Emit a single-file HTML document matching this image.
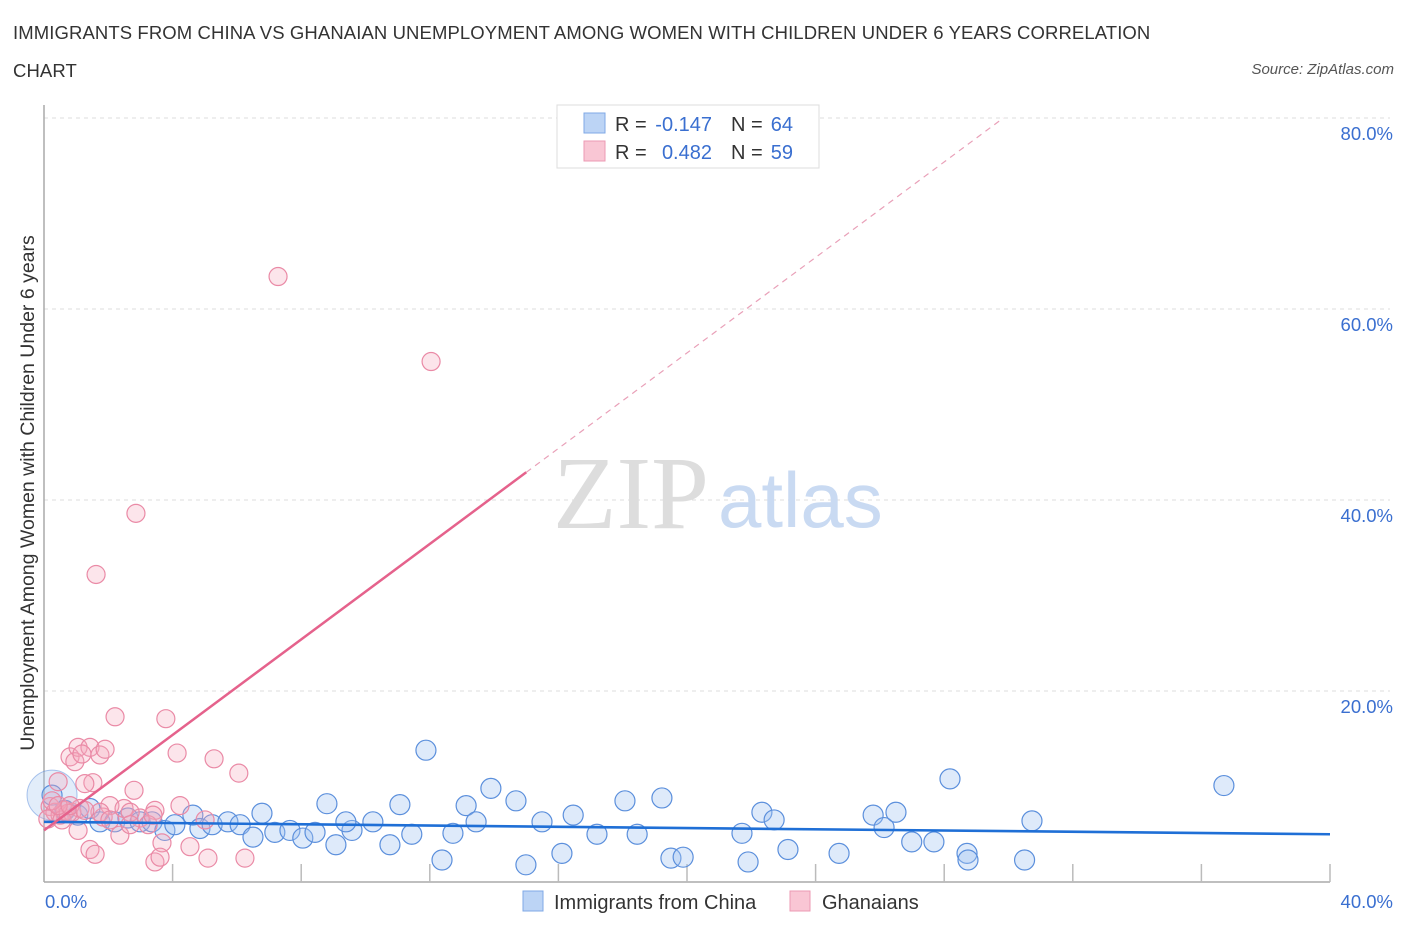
<!DOCTYPE html>
<html><head><meta charset="utf-8">
<style>
body{margin:0;background:#fff;font-family:"Liberation Sans",sans-serif;}
#wrap{position:relative;width:1406px;height:930px;overflow:hidden;}
.title{position:absolute;left:13px;top:14px;font-size:18.5px;color:#333;line-height:38px;width:1160px;letter-spacing:0.1px;}
.src{position:absolute;right:12px;top:61px;font-size:15px;color:#555;font-style:italic;}
</style></head><body>
<div id="wrap">
<div class="title">IMMIGRANTS FROM CHINA VS GHANAIAN UNEMPLOYMENT AMONG WOMEN WITH CHILDREN UNDER 6 YEARS CORRELATION CHART</div>
<div class="src">Source: ZipAtlas.com</div>
<svg id="svg" width="1406" height="930" style="position:absolute;left:0;top:0"></svg>
</div>
<script>
const blueX=[0.25,0.65,1.05,1.43,1.74,2.2,2.61,2.99,3.36,3.76,4.07,4.63,4.85,5.23,5.72,6.1,6.5,6.78,7.18,7.65,8.05,8.43,8.8,9.08,9.58,9.39,10.23,10.76,11.07,11.44,11.88,12.38,12.72,13.13,13.44,13.9,14.68,14.99,15.49,16.11,16.46,17.2,18.07,18.45,19.22,19.5,19.88,21.71,21.9,22.33,22.71,23.14,24.73,25.79,26.13,26.5,26.99,27.68,28.18,28.71,28.74,30.5,30.73,36.7];
const blueY=[9.1,7.5,7.0,7.7,6.3,6.3,6.7,6.3,6.3,5.4,6.0,7.0,5.6,6.0,6.3,6.0,4.7,7.2,5.2,5.4,4.6,5.2,8.2,3.9,5.4,6.3,6.3,3.9,8.1,5.0,13.8,2.3,5.1,8.0,6.3,9.8,8.5,1.8,6.3,3.0,7.0,5.0,8.5,5.0,8.8,2.5,2.6,5.1,2.1,7.3,6.5,3.4,3.0,7.0,5.7,7.3,4.2,4.2,10.8,3.0,2.3,2.3,6.4,10.1];
const pinkX=[7.28,12.04,2.86,1.62,2.21,3.79,4.14,5.29,6.06,0.81,1.06,1.43,1.74,1.9,0.96,1.18,0.44,1.52,2.8,4.23,1.27,2.05,2.49,3.45,2.99,1.84,1.06,2.36,3.67,4.54,5.1,6.25,3.45,3.61,1.43,1.59,0.19,0.34,0.5,0.65,0.87,1.12,0.12,0.56,0.75,1.74,2.68,3.24,5.01,0.25,0.44,0.81,1.27,2.05,2.68,3.39];
const pinkY=[63.4,54.5,38.6,32.2,17.3,17.1,13.5,12.9,11.4,13.1,14.1,14.1,13.3,13.9,12.6,13.4,10.5,10.4,9.6,8.0,10.3,8.0,7.7,7.5,6.7,6.8,5.4,4.9,4.1,3.7,2.5,2.5,2.1,2.6,3.4,2.9,7.9,7.3,7.0,7.5,7.3,7.7,6.6,6.5,7.2,7.3,7.3,6.0,6.5,8.5,8.0,8.0,7.5,6.5,6.0,7.0];
const yTicks=[20,40,60,80];
const blueFit=[6.3,5.0];
const pinkFit=[5.4,2.5];
const ns="http://www.w3.org/2000/svg";
const svg=document.getElementById('svg');
const X=v=>44+v*32.15, Y=v=>882-v*9.55;
function el(t,a,p){const e=document.createElementNS(ns,t);for(const k in a)e.setAttribute(k,a[k]);(p||svg).appendChild(e);return e;}
yTicks.forEach(t=>{
 const g=el('line',{x1:44,x2:1390,y1:Y(t),y2:Y(t),stroke:'#ddd','stroke-dasharray':'4,4'});
 
 
 const tx=el('text',{x:1393,y:Y(t)+22,'text-anchor':'end','font-size':18.5,fill:'#3a6fd0','font-family':'Liberation Sans'});
 tx.textContent=t.toFixed(1)+'%';
 
 
});
el('line',{x1:44,x2:44,y1:105,y2:882,stroke:'#aaa','stroke-width':1.5});
el('line',{x1:44,x2:1330,y1:882,y2:882,stroke:'#aaa','stroke-width':1.5});
for(let i=1;i<=10;i++){el('line',{x1:X(i*4),x2:X(i*4),y1:864,y2:882,stroke:'#bbb','stroke-width':1.5});}
const xl=el('text',{x:45,y:908,'font-size':18.5,fill:'#3a6fd0'});xl.textContent='0.0%';


const xr=el('text',{x:1393,y:908,'font-size':18.5,fill:'#3a6fd0','text-anchor':'end'});xr.textContent='40.0%';


const wm=el('text',{x:553,y:528,'font-size':104,fill:'#ddd','font-family':'Liberation Serif'});wm.textContent='ZIP';


const wm2=el('text',{x:718,y:527,'font-size':78,fill:'#c9daf2'});wm2.textContent='atlas';
const yt=el('text',{x:0,y:0,'font-size':19.5,fill:'#333',transform:'translate(34,493) rotate(-90)','text-anchor':'middle'});
yt.textContent='Unemployment Among Women with Children Under 6 years';


el('circle',{cx:X(0.25),cy:Y(9.1),r:25,fill:'rgba(160,195,240,0.3)',stroke:'rgba(90,140,220,0.5)'});
blueX.forEach((x,i)=>{const c=el('circle',{cx:X(x),cy:Y(blueY[i]),r:10,fill:'rgba(160,195,240,0.35)',stroke:'#5b8fdc','stroke-width':1.2});
 
 });
pinkX.forEach((x,i)=>{const c=el('circle',{cx:X(x),cy:Y(pinkY[i]),r:9,fill:'rgba(245,170,190,0.3)',stroke:'#ea8aa6','stroke-width':1.2});
 
 });
const bl=el('line',{x1:X(0),y1:Y(blueFit[0]),x2:X(40),y2:Y(blueFit[1]),stroke:'#1f6fd6','stroke-width':2.6});


const pe=15,pd=(80-pinkFit[0])/pinkFit[1];
const pl=el('line',{x1:X(0),y1:Y(pinkFit[0]),x2:X(pe),y2:Y(pinkFit[0]+pinkFit[1]*pe),stroke:'#e5628c','stroke-width':2.5});


const pdl=el('line',{x1:X(pe),y1:Y(pinkFit[0]+pinkFit[1]*pe),x2:X(pd),y2:Y(80),stroke:'#e9a0b8','stroke-width':1.2,'stroke-dasharray':'6,5'});


const lg=el('g',{});


el('rect',{x:557,y:105,width:262,height:63,fill:'#fff',stroke:'#ddd'},lg);
el('rect',{x:584,y:113,width:21,height:20,fill:'#bcd4f5',stroke:'#7fa8e6'},lg);
el('rect',{x:584,y:141,width:21,height:20,fill:'#f9c6d4',stroke:'#ec9ab3'},lg);
function t(x,y,s,c,a){const e=el('text',{x:x,y:y,'font-size':20,fill:c,'text-anchor':a||'start'},lg);e.textContent=s;}
t(615,131,'R =','#333');t(712,131,'-0.147','#3a6fd0','end');t(731,131,'N =','#333');t(793,131,'64','#3a6fd0','end');
t(615,159,'R =','#333');t(712,159,'0.482','#3a6fd0','end');t(731,159,'N =','#333');t(793,159,'59','#3a6fd0','end');
const b1=el('rect',{x:523,y:891,width:20,height:20,fill:'#bcd4f5',stroke:'#7fa8e6'});


const bt1=el('text',{x:554,y:909,'font-size':20,fill:'#333'});bt1.textContent='Immigrants from China';


const b2=el('rect',{x:790,y:891,width:20,height:20,fill:'#f9c6d4',stroke:'#ec9ab3'});


const bt2=el('text',{x:822,y:909,'font-size':20,fill:'#333'});bt2.textContent='Ghanaians';


</script>
</body></html>
